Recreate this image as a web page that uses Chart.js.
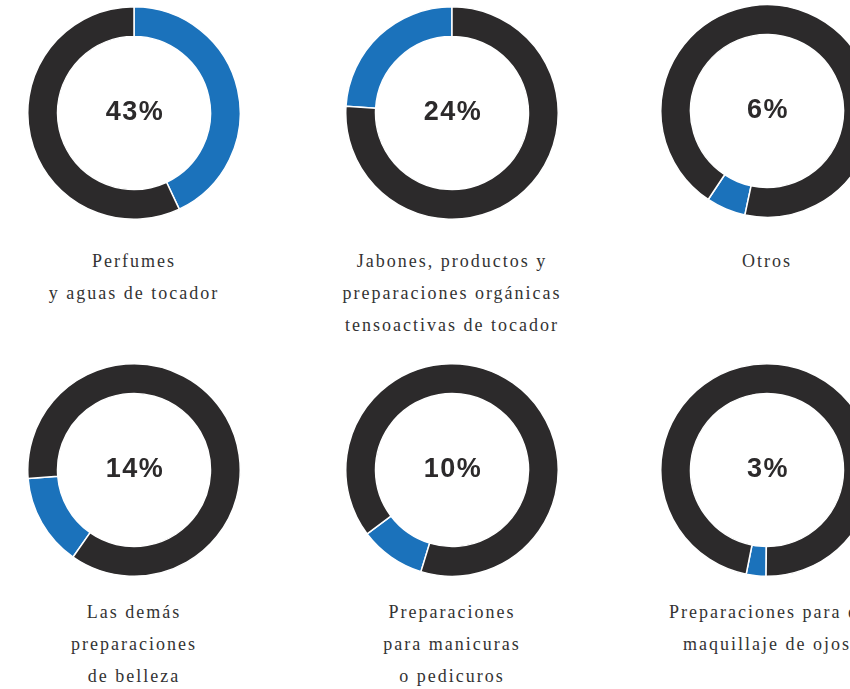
<!DOCTYPE html>
<html>
<head>
<meta charset="utf-8">
<script src="https://cdn.jsdelivr.net/npm/chart.js@4/dist/chart.umd.min.js"></script>
<style>
  html, body { margin: 0; padding: 0; background: #fff; overflow: hidden; }
  #board { position: relative; width: 1000px; height: 689px; }
  .cell { position: absolute; width: 214px; height: 214px; }
  .label {
    position: absolute; width: 300px; text-align: center;
    font-family: "Liberation Serif", serif; font-size: 18px; line-height: 32px;
    letter-spacing: 2px; color: #333;
  }
</style>
</head>
<body>
<div id="board"></div>
<script>
// categories (each label split into its lines)
const categories = [
  ['Perfumes', 'y aguas de tocador'],
  ['Jabones, productos y', 'preparaciones orgánicas', 'tensoactivas de tocador'],
  ['Otros'],
  ['Las demás', 'preparaciones', 'de belleza'],
  ['Preparaciones', 'para manicuras', 'o pedicuros'],
  ['Preparaciones para el', 'maquillaje de ojos']
];
// share of each category, %
const shares = [43, 24, 6, 14, 10, 3];

// where the blue arc starts (degrees clockwise from top)
const startAngles = [0, 273.6, 192, 215, 197, 180.5];
const centersX = [134, 452, 767];
const centersY = [113, 470];
const labelOffsets = [132, 126];

const BLUE = '#1b72bb';
const DARK = '#2c2a2b';

const centerText = {
  id: 'centerText',
  afterDraw(chart, args, opts) {
    const { ctx } = chart;
    const arc = chart.getDatasetMeta(0).data[0];
    ctx.save();
    ctx.font = 'bold 27px "Liberation Sans", Arial, sans-serif';
    ctx.letterSpacing = '1.5px';
    ctx.fillStyle = DARK;
    ctx.textAlign = 'center';
    ctx.textBaseline = 'middle';
    ctx.fillText(opts.text, arc.x + 1, arc.y);
    ctx.restore();
  }
};

const board = document.getElementById('board');

shares.forEach((share, i) => {
  const row = Math.floor(i / 3);
  const cx = centersX[i % 3];
  const cy = centersY[row] - (i === 2 ? 2 : 0);

  const cell = document.createElement('div');
  cell.className = 'cell';
  cell.style.left = (cx - 107) + 'px';
  cell.style.top = (cy - 107) + 'px';
  const canvas = document.createElement('canvas');
  cell.appendChild(canvas);
  board.appendChild(cell);

  const label = document.createElement('div');
  label.className = 'label';
  label.style.left = (cx - 150) + 'px';
  label.style.top = (centersY[row] + labelOffsets[row]) + 'px';
  label.innerHTML = categories[i].join('<br>');
  board.appendChild(label);

  new Chart(canvas, {
    type: 'doughnut',
    data: {
      labels: ['share', 'rest'],
      datasets: [{
        data: [share, 100 - share],
        backgroundColor: [BLUE, DARK],
        borderColor: '#fff',
        borderWidth: 1.5,
        hoverOffset: 0
      }]
    },
    options: {
      responsive: true,
      maintainAspectRatio: false,
      animation: false,
      cutout: '72%',
      rotation: startAngles[i],
      layout: { padding: 0 },
      events: [],
      plugins: {
        legend: { display: false },
        tooltip: { enabled: false },
        centerText: { text: share + '%' }
      }
    },
    plugins: [centerText]
  });
});
</script>
</body>
</html>
